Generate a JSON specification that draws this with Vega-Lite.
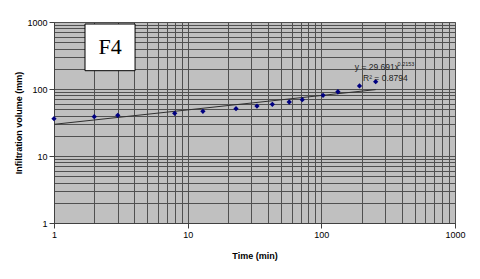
{
  "$schema": "https://vega.github.io/schema/vega-lite/v6.json",
  "width": 401,
  "height": 201,
  "autosize": "none",
  "padding": {"left": 54, "top": 22, "right": 25, "bottom": 56},
  "background": "white",
  "config": {
    "view": {"fill": "#c0c0c0", "stroke": "#808080", "strokeWidth": 1},
    "font": "Liberation Sans",
    "axis": {
      "labelFont": "Liberation Sans",
      "labelFontSize": 9,
      "labelColor": "#000000",
      "titleFont": "Liberation Sans",
      "titleFontSize": 9,
      "titleFontWeight": "bold",
      "titleColor": "#000000",
      "gridColor": "#505050",
      "gridWidth": 1,
      "gridOpacity": 1,
      "domainColor": "#404040",
      "tickColor": "#404040",
      "tickSize": 5,
      "labelPadding": 2
    }
  },
  "datasets": {
    "obs": [
      {"t": 1, "v": 36},
      {"t": 2, "v": 38.6},
      {"t": 3, "v": 40.5},
      {"t": 8, "v": 43.4},
      {"t": 13, "v": 46.5},
      {"t": 23, "v": 50.8},
      {"t": 33, "v": 55.7},
      {"t": 43, "v": 59},
      {"t": 57.5, "v": 64},
      {"t": 72, "v": 69.3},
      {"t": 103, "v": 80.5},
      {"t": 133, "v": 91},
      {"t": 193, "v": 111},
      {"t": 255, "v": 128.5}
    ],
    "trend": [
      {"t": 1, "v": 29.7},
      {"t": 255, "v": 97.9}
    ],
    "box": [
      {"t": 1.706, "t2": 4.04, "v": 187.6, "v2": 933, "label": "F4"}
    ],
    "eq": [
      {"t": 178, "v": 215, "label": "y = 29.691x"},
      {"t": 205, "v": 146, "label": "R² = 0.8794"}
    ],
    "sup": [
      {"t": 372, "v": 240, "label": "0.2153"}
    ]
  },
  "encoding": {
    "x": {
      "field": "t",
      "type": "quantitative",
      "scale": {"type": "log", "domain": [1, 1000], "nice": false},
      "axis": {
        "title": "Time (min)",
        "titlePadding": 12,
        "values": [1,2,3,4,5,6,7,8,9,10,20,30,40,50,60,70,80,90,100,200,300,400,500,600,700,800,900,1000],
        "format": "d",
        "labelExpr": "indexof([1,10,100,1000], datum.value) >= 0 ? datum.label : ''",
        "tickOpacity": {"condition": {"test": "indexof([1,10,100,1000], datum.value) < 0", "value": 0}, "value": 1},
        "labelFlush": false,
        "labelOverlap": false
      }
    },
    "y": {
      "field": "v",
      "type": "quantitative",
      "scale": {"type": "log", "domain": [1, 1000], "nice": false},
      "axis": {
        "title": "Infiltration volume (mm)",
        "titlePadding": 3,
        "values": [1,2,3,4,5,6,7,8,9,10,20,30,40,50,60,70,80,90,100,200,300,400,500,600,700,800,900,1000],
        "format": "d",
        "labelExpr": "indexof([1,10,100,1000], datum.value) >= 0 ? datum.label : ''",
        "tickOpacity": {"condition": {"test": "indexof([1,10,100,1000], datum.value) < 0", "value": 0}, "value": 1},
        "labelFlush": false,
        "labelOverlap": false
      }
    }
  },
  "layer": [
    {
      "data": {"name": "box"},
      "mark": {"type": "rect", "fill": "white", "stroke": "black", "strokeWidth": 1},
      "encoding": {"x2": {"field": "t2"}, "y2": {"field": "v2"}}
    },
    {
      "data": {"name": "box"},
      "transform": [{"calculate": "sqrt(datum.t*datum.t2)", "as": "tc"}, {"calculate": "sqrt(datum.v*datum.v2)", "as": "vc"}],
      "mark": {"type": "text", "font": "Liberation Serif", "fontSize": 22, "color": "black", "align": "center", "baseline": "middle"},
      "encoding": {
        "x": {"field": "tc", "type": "quantitative"},
        "y": {"field": "vc", "type": "quantitative"},
        "text": {"field": "label"}
      }
    },
    {
      "data": {"name": "trend"},
      "mark": {"type": "line", "color": "#303030", "strokeWidth": 1},
      "encoding": {}
    },
    {
      "data": {"name": "obs"},
      "mark": {"type": "point", "shape": "diamond", "filled": true, "color": "#000080", "size": 28, "opacity": 1},
      "encoding": {}
    },
    {
      "data": {"name": "eq"},
      "mark": {"type": "text", "fontSize": 8.5, "color": "#222222", "align": "left", "baseline": "middle"},
      "encoding": {"text": {"field": "label"}}
    },
    {
      "data": {"name": "sup"},
      "mark": {"type": "text", "fontSize": 5.5, "color": "#222222", "align": "left", "baseline": "middle"},
      "encoding": {"text": {"field": "label"}}
    }
  ]
}
